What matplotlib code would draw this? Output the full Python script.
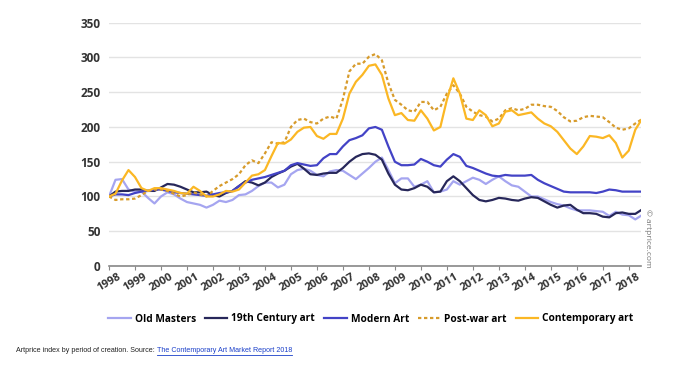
import numpy as np
import matplotlib

matplotlib.use("Agg")
import matplotlib.pyplot as plt
from matplotlib.lines import Line2D

# quarterly index values, 1998 Q1 .. mid 2018 (base 100 in 1998)
quarters = np.arange(1998.0, 2018.51, 0.25)

old_masters = [
    100, 124, 125, 110, 107, 107, 98, 90, 100, 106, 103, 97, 92, 90, 88, 84,
    88, 94, 92, 95, 102, 103, 108, 115, 120, 120, 113, 117, 132, 138, 140, 137,
    131, 129, 136, 138, 137, 131, 125, 133, 141, 150, 156, 138, 119, 126, 126, 114,
    117, 122, 106, 107, 110, 122, 117, 122, 127, 124, 118, 124, 129, 122, 116, 114,
    107, 100, 100, 96, 92, 89, 87, 83, 80, 80, 80, 79, 78, 72, 78, 74,
    73, 67, 73,
]
century_19th = [
    100, 107, 108, 108, 110, 110, 108, 108, 113, 118, 117, 114, 110, 106, 106, 107,
    102, 100, 105, 108, 115, 122, 120, 116, 120, 128, 133, 137, 143, 147, 140, 132,
    131, 133, 134, 134, 141, 150, 157, 161, 162, 160, 153, 133, 117, 110, 109, 112,
    117, 114, 106, 107, 122, 129, 122, 112, 102, 95, 93, 95, 98, 97, 95, 94,
    97, 99, 98, 93, 88, 84, 87, 88, 81, 76, 76, 75, 71, 70, 76, 77,
    75, 75, 81,
]
modern_art = [
    100, 103, 103, 102, 105, 107, 108, 110, 110, 108, 106, 105, 104, 103, 102, 101,
    103, 105, 106, 108, 115, 120, 124, 126, 128, 131, 134, 137, 145, 148, 146, 144,
    145, 155, 161, 161, 172, 181, 184, 188, 198, 200, 196, 172, 150, 145, 145, 146,
    154, 150, 145, 143, 153, 161, 157, 144, 141, 137, 133, 130, 129, 131, 130, 130,
    130, 131, 124, 119, 115, 111, 107, 106, 106, 106, 106, 105, 107, 110, 109, 107,
    107, 107, 107,
]
post_war = [
    100, 95, 96, 96, 97, 102, 108, 110, 110, 108, 104, 100, 102, 106, 103, 100,
    108, 115, 120, 125, 132, 145, 152, 148, 162, 178, 176, 178, 200, 210, 212, 207,
    205, 212, 215, 212, 240, 280, 291, 291, 301, 305, 296, 263, 239, 232, 224, 222,
    236, 236, 224, 229, 248, 260, 248, 229, 222, 217, 215, 208, 212, 224, 227, 224,
    226, 232, 232, 230, 229, 223, 214, 208, 209, 214, 216, 215, 214, 207, 199, 196,
    198, 205, 211,
]
contemporary = [
    100, 104, 123, 138, 128, 112, 108, 112, 112, 110, 108, 105, 104, 114, 108, 100,
    100, 103, 108, 107, 110, 120, 130, 132, 138, 158, 177, 176, 182, 193, 199, 200,
    187, 183, 190, 190, 212, 248, 265, 275, 288, 290, 275, 241, 217, 220, 210, 209,
    224, 212, 195, 200, 239, 270, 248, 212, 210, 224, 217, 201, 205, 222, 224, 217,
    219, 221, 212, 205, 201, 193, 181, 169, 161, 172, 187, 186, 184, 188, 177, 156,
    166, 196, 211,
]

series = [
    ("Old Masters", old_masters, "#a5a5f0", "-"),
    ("19th Century art", century_19th, "#27275a", "-"),
    ("Modern Art", modern_art, "#4343c6", "-"),
    ("Post-war art", post_war, "#d79b2b", (0, (1.5, 1.2))),
    ("Contemporary art", contemporary, "#fbb724", "-"),
]

years = list(range(1998, 2019))
y_ticks = [0, 50, 100, 150, 200, 250, 300, 350]

plt.rcParams["font.family"] = ["Open Sans", "DejaVu Sans"]

fig = plt.figure(figsize=(6.73, 3.66), dpi=100)
ax = fig.add_axes([109 / 673, 1 - 266 / 366, 532 / 673, (266 - 22.7) / 366])

for label, values, color, style in series:
    ax.plot(quarters, values, color=color, linestyle=style, linewidth=1.6, label=label)

ax.set_xlim(1998, 2018.47)
ax.set_ylim(0, 350)
ax.set_yticks(y_ticks)
ax.set_yticklabels([str(v) for v in y_ticks], fontsize=8.5, fontweight="bold", color="#333333")
ax.set_xticks(years)
ax.set_xticklabels([str(y) for y in years], fontsize=8, fontweight="bold", color="#333333",
                   rotation=30, ha="center")
ax.tick_params(axis="y", length=0, pad=6)
ax.tick_params(axis="x", length=3, color="#888888", pad=1)
ax.grid(True, axis="y", color="#e3e3e3", linewidth=1.0)
ax.set_axisbelow(True)
for side in ["left", "right", "top"]:
    ax.spines[side].set_visible(False)
ax.spines["bottom"].set_color("#888888")
ax.spines["bottom"].set_linewidth(1.2)

handles = [Line2D([], [], color=c, linestyle=s, linewidth=1.6) for _, _, c, s in series]
labels = [lab for lab, _, _, _ in series]
fig.legend(handles, labels, ncol=5, loc="center", bbox_to_anchor=(371 / 673, 1 - 319 / 366),
           frameon=False, handlelength=2.2, handletextpad=0.4, columnspacing=0.9,
           prop={"size": 7.3, "weight": "bold"})

fig.text(648 / 673, 1 - 238 / 366, "© artprice.com", rotation=270, ha="center", va="center",
         fontsize=6, color="#777777")

cap = fig.text(16 / 673, 1 - 351 / 366, "Artprice index by period of creation. Source: ",
               fontsize=5.1, family="Liberation Sans", color="#222222", va="center")
fig.canvas.draw()
bb = cap.get_window_extent()
link_x = bb.x1 / fig.bbox.width
link = fig.text(link_x, 1 - 351 / 366, "The Contemporary Art Market Report 2018", fontsize=5.1,
                family="Liberation Sans", color="#1a3fc9", va="center")
fig.canvas.draw()
lb = link.get_window_extent()
fig.add_artist(Line2D([link_x, lb.x1 / fig.bbox.width], [1 - 354.5 / 366, 1 - 354.5 / 366],
                      color="#1a3fc9", linewidth=0.6))

fig.savefig("out.png", dpi=100)
